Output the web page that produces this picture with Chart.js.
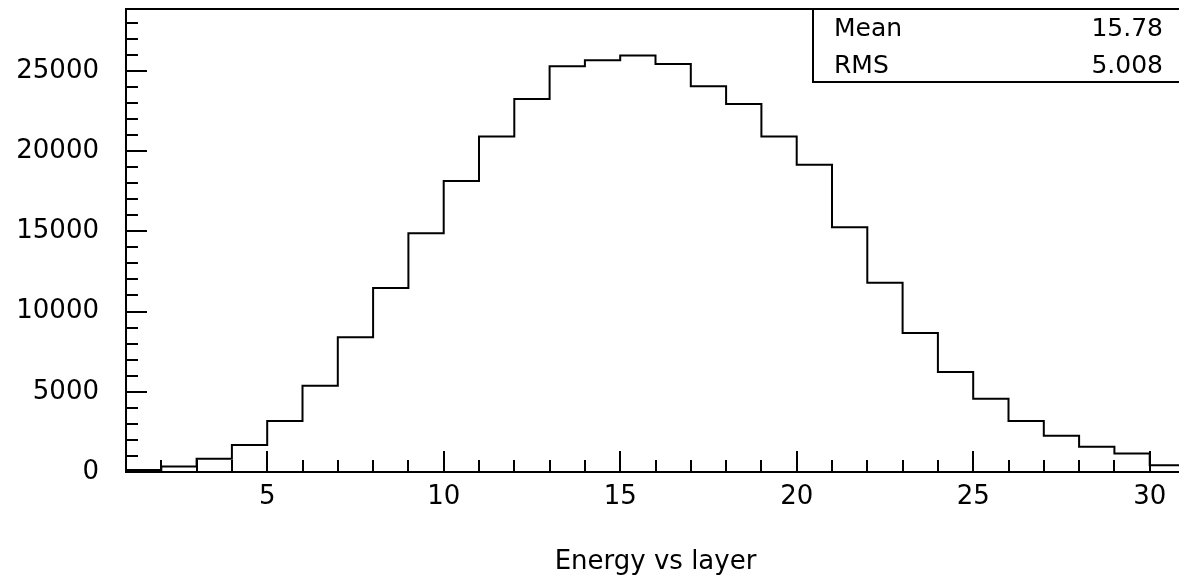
<!DOCTYPE html>
<html>
<head>
<meta charset="utf-8">
<script src="https://cdn.jsdelivr.net/npm/chart.js@4/dist/chart.umd.min.js"></script>
<style>
  html, body { margin: 0; padding: 0; background: #fff; overflow: hidden; }
  #wrap { position: absolute; left: 0; top: 0; width: 1190px; height: 578px; }
</style>
</head>
<body>
<div id="wrap"><canvas id="chart"></canvas></div>
<script>
// histogram bins (lower edges) and contents
var binLow = [1, 2, 3, 4, 5, 6, 7, 8, 9, 10, 11, 12, 13, 14, 15, 16, 17, 18, 19, 20, 21, 22, 23, 24, 25, 26, 27, 28, 29, 30];
var binHigh = 31;
var counts = [130, 340, 830, 1680, 3180, 5370, 8390, 11460, 14880, 18140, 20900, 23240, 25280, 25650, 25960,
              25420, 24030, 22930, 20900, 19140, 15250, 11800, 8660, 6230, 4560, 3180, 2260, 1580, 1160, 420];

var xTickLabels = [5, 10, 15, 20, 25, 30];
var yTickLabels = [0, 5000, 10000, 15000, 20000, 25000];
var yMax = 28850;

var statNames = ["Mean", "RMS"];
var statValues = ["15.78", "5.008"];

var axisTitle = "Energy vs layer";
var FONT = "'DejaVu Sans', sans-serif";
var INK = "#000";

// step 'before' = horizontal run at the bin's height, then the vertical edge
var points = binLow.map(function(x, i) { return { x: x, y: counts[i] }; });
points.push({ x: binHigh, y: counts[counts.length - 1] });

// ROOT style frame, inward ticks and stats box
var rootDecor = {
  id: "rootDecor",
  afterDraw: function(chart) {
    var ctx = chart.ctx;
    var a = chart.chartArea;
    var xs = chart.scales.x, ys = chart.scales.y;
    ctx.save();
    ctx.strokeStyle = INK;
    ctx.lineWidth = 2;

    ctx.beginPath();
    for (var v = binLow[0]; v <= binHigh; v++) {
      var px = Math.round(xs.getPixelForValue(v));
      var len = xTickLabels.indexOf(v) >= 0 ? 21 : 12;
      ctx.moveTo(px, a.bottom);
      ctx.lineTo(px, a.bottom - len);
    }
    for (var w = 1000; w < yMax; w += 1000) {
      var py = Math.round(ys.getPixelForValue(w));
      var l = yTickLabels.indexOf(w) >= 0 ? 21 : 12;
      ctx.moveTo(a.left, py);
      ctx.lineTo(a.left + l, py);
    }
    ctx.stroke();

    ctx.strokeRect(a.left, a.top, a.right - a.left, a.bottom - a.top);

    // stats box
    var bx = 813, by = a.top, bh = 73;
    ctx.fillStyle = "#fff";
    ctx.fillRect(bx, by, a.right - bx + 2, bh);
    ctx.strokeRect(bx, by, a.right - bx + 2, bh);
    ctx.fillStyle = INK;
    ctx.font = "25px " + FONT;
    ctx.textBaseline = "middle";
    for (var i = 0; i < statNames.length; i++) {
      var ty = by + 20 + i * 37;
      ctx.textAlign = "left";
      ctx.fillText(statNames[i], 834, ty);
      ctx.textAlign = "right";
      ctx.fillText(statValues[i], 1163, ty);
    }
    ctx.restore();
  }
};

function noPad(s) { s.paddingTop = 0; s.paddingBottom = 0; s.paddingLeft = 0; s.paddingRight = 0; }

new Chart(document.getElementById("chart"), {
  type: "line",
  data: {
    datasets: [{
      data: points,
      stepped: "before",
      borderColor: INK,
      borderWidth: 2,
      pointRadius: 0,
      fill: false
    }]
  },
  options: {
    responsive: true,
    maintainAspectRatio: false,
    animation: false,
    layout: { padding: { top: 9, right: 5, left: 0, bottom: 0 } },
    plugins: { legend: { display: false }, tooltip: { enabled: false } },
    scales: {
      x: {
        type: "linear",
        min: binLow[0],
        max: binHigh,
        grid: { display: false, drawTicks: false },
        border: { display: false },
        afterBuildTicks: function(s) { s.ticks = xTickLabels.map(function(v) { return { value: v }; }); },
        afterFit: function(s) { s.height = 106; noPad(s); },
        ticks: { padding: 10, color: INK, font: { family: FONT, size: 26 }, maxRotation: 0,
                 callback: function(v) { return String(v); } },
        title: { display: true, text: axisTitle, color: INK, font: { family: FONT, size: 26 }, padding: 0 }
      },
      y: {
        min: 0,
        max: yMax,
        grid: { display: false, drawTicks: false },
        border: { display: false },
        afterBuildTicks: function(s) { s.ticks = yTickLabels.map(function(v) { return { value: v }; }); },
        afterFit: function(s) { s.width = 126; noPad(s); },
        ticks: { padding: 27, color: INK, font: { family: FONT, size: 26 },
                 callback: function(v) { return String(v); } }
      }
    }
  },
  plugins: [rootDecor]
});
</script>
</body>
</html>
